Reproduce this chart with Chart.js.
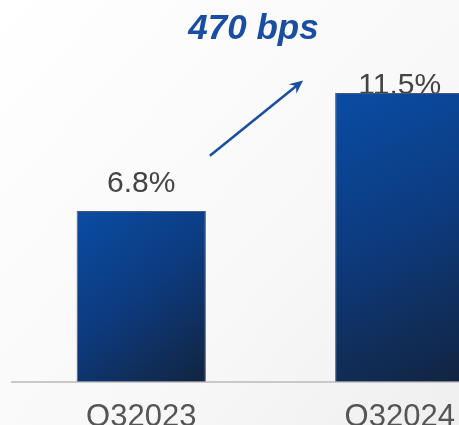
<!DOCTYPE html>
<html lang="en">
  <head>
    <meta charset="UTF-8" />
    <title>Margin Q3</title>
    <script src="https://cdn.jsdelivr.net/npm/chart.js"></script>
    <style>
      html, body { margin: 0; padding: 0; background: #fafafa; }
      #wrap { width: 459px; height: 425px; overflow: hidden; position: relative; }
      canvas { display: block; }
    </style>
  </head>
  <body>
    <div id="wrap"><canvas id="chart" width="530" height="473"></canvas></div>
    <script>
      const quarters = ["Q32023", "Q32024"];
      const margins = [6.8, 11.5];
      const marginLabels = ["6.8%", "11.5%"];
      const changeText = "470 bps";

      const BLUE = "#1a4ea3";

      // diagonal gradient for each bar, top-left bright blue to dark navy
      function barFill(ctx) {
        const chart = ctx.chart;
        const area = chart.chartArea;
        if (!area) return "#0c3c80";
        const x = chart.scales.x, y = chart.scales.y;
        const cx = x.getPixelForValue(ctx.dataIndex);
        const half = (x.width / quarters.length) * 0.25;
        const top = y.getPixelForValue(margins[ctx.dataIndex]);
        const g = chart.ctx.createLinearGradient(cx - half, top, cx + half, area.bottom);
        g.addColorStop(0, "#0a4ca4");
        g.addColorStop(0.5, "#0d3a7c");
        g.addColorStop(1, "#122440");
        return g;
      }

      const backdrop = {
        id: "backdrop",
        beforeDraw(chart) {
          const c = chart.ctx;
          const g = c.createLinearGradient(0, 0, 459, 425);
          g.addColorStop(0, "#ffffff");
          g.addColorStop(0.6, "#f8f8f8");
          g.addColorStop(1, "#efefef");
          c.save();
          c.fillStyle = g;
          c.fillRect(0, 0, chart.width, chart.height);
          c.restore();
        },
      };

      // value labels sit behind the bars
      const valueLabels = {
        id: "valueLabels",
        beforeDatasetsDraw(chart, args, opts) {
          const c = chart.ctx;
          const meta = chart.getDatasetMeta(0);
          c.save();
          c.font = "30px Arial, 'Liberation Sans', sans-serif";
          c.fillStyle = "#444444";
          c.textAlign = "center";
          c.textBaseline = "alphabetic";
          meta.data.forEach((bar, i) => {
            c.fillText(marginLabels[i], bar.x, bar.y - opts.offsets[i]);
          });
          c.restore();
        },
      };

      const changeArrow = {
        id: "changeArrow",
        afterDatasetsDraw(chart, args, opts) {
          const c = chart.ctx;
          const y = chart.scales.y;
          const bars = chart.getDatasetMeta(0).data;
          const x0 = bars[0].x + bars[0].width / 2 + 4;
          const x1 = bars[1].x - bars[1].width / 2 - 32;
          const y0 = y.getPixelForValue(opts.from);
          const y1 = y.getPixelForValue(opts.to);
          const ang = Math.atan2(y1 - y0, x1 - x0);
          const len = 15;
          c.save();
          c.strokeStyle = BLUE;
          c.fillStyle = BLUE;
          c.lineWidth = 2.5;
          c.beginPath();
          c.moveTo(x0, y0);
          c.lineTo(x1 - Math.cos(ang) * 8, y1 - Math.sin(ang) * 8);
          c.stroke();
          c.beginPath();
          c.moveTo(x1, y1);
          c.lineTo(x1 - len * Math.cos(ang - 0.42), y1 - len * Math.sin(ang - 0.42));
          c.lineTo(x1 - 9 * Math.cos(ang), y1 - 9 * Math.sin(ang));
          c.lineTo(x1 - len * Math.cos(ang + 0.42), y1 - len * Math.sin(ang + 0.42));
          c.closePath();
          c.fill();

          c.font = "italic bold 35px Arial, 'Liberation Sans', sans-serif";
          c.textAlign = "center";
          c.textBaseline = "alphabetic";
          c.fillText(changeText, (x0 + x1) / 2 - 3, 39);
          c.restore();
        },
      };

      new Chart(document.getElementById("chart"), {
        type: "bar",
        data: {
          labels: quarters,
          datasets: [
            {
              data: margins,
              backgroundColor: barFill,
              borderColor: "#4a5870",
              borderWidth: 1,
              borderSkipped: "bottom",
              categoryPercentage: 1,
              barPercentage: 0.5,
            },
          ],
        },
        options: {
          responsive: false,
          animation: false,
          layout: { padding: { left: 12, right: 1, top: 0, bottom: 20 } },
          plugins: {
            legend: { display: false },
            tooltip: { enabled: false },
            valueLabels: { offsets: [19, -1] },
            changeArrow: { from: 9.0, to: 12.0 },
          },
          scales: {
            x: {
              grid: { display: false, drawTicks: false },
              border: { display: true, color: "#c9c9c9", width: 2 },
              ticks: {
                color: "#555555",
                padding: 17,
                font: { family: "Arial, 'Liberation Sans', sans-serif", size: 31 },
              },
            },
            y: {
              display: false,
              min: 0,
              max: 15.2,
            },
          },
        },
        plugins: [backdrop, valueLabels, changeArrow],
      });
    </script>
  </body>
</html>
